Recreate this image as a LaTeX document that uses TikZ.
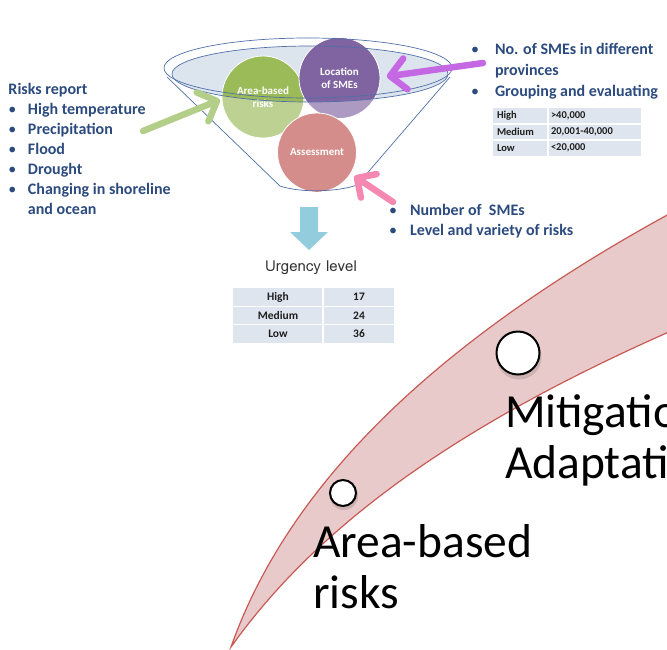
\documentclass[tikz,border=0pt]{standalone}
\usepackage{fontspec}
\setmainfont{Carlito}
\newfontfamily\lomafont{Loma}
\usetikzlibrary{calc}
\definecolor{navy}{HTML}{2B4A7E}
\definecolor{fgreen}{HTML}{9BBB59}
\definecolor{fpurple}{HTML}{8064A2}
\definecolor{fred}{HTML}{C0504D}
\definecolor{funnelline}{HTML}{4F6FA8}
\definecolor{ellfill}{HTML}{DCE4EE}
\definecolor{agreen}{HTML}{B3CE88}
\definecolor{apurple}{HTML}{C468E4}
\definecolor{apink}{HTML}{F488B0}
\definecolor{ablue}{HTML}{93CDDD}
\definecolor{tabfill}{HTML}{DFE5EE}
\definecolor{tabtext}{HTML}{1E1E1E}
\definecolor{bandfill}{HTML}{E8CACA}
\definecolor{bandline}{HTML}{C85A56}
\begin{document}
\begin{tikzpicture}[x=1pt,y=-1pt,
  every node/.style={inner sep=0pt, outer sep=0pt},
  funnelcircle/.style={circle, minimum size=#1, draw=white, line width=0.8pt},
  circlabel/.style={text=white, font=\bfseries\fontsize{11}{13}\selectfont, align=center},
  navytext/.style={text=navy, font=\bfseries\fontsize{16}{20}\selectfont},
  fatarrow/.style={line width=6.5pt, line cap=round, line join=round},
  tabtxt/.style={text=tabtext, font=\bfseries\fontsize{10.5}{12}\selectfont},
  bigtext/.style={font=\fontsize{47.5}{52}\selectfont, anchor=base west},
  ringdot/.style={circle, draw=black, line width=2pt, fill=white},
  funnelstroke/.style={draw=funnelline, line width=0.7pt}]
\useasboundingbox (0,0) rectangle (667,649);
\clip (0,0) rectangle (667,649);

% ---------- band ----------
\filldraw[fill=bandfill, draw=bandline, line width=1.2pt]
  (231,647) .. controls (290,480) and (445,328) .. (720,187)
  -- (720,310) .. controls (480,410) and (325,515) .. (231,647) -- cycle;
\fill[black, opacity=0.12] (344,496) circle (14);
\node[ringdot, minimum size=26pt] (dotA) at (343,493) {};
\fill[black, opacity=0.12] (519,357) circle (22.5);
\node[ringdot, minimum size=43pt] (dotB) at (518,353) {};
\node[bigtext] (mit1) at (505,427) {Mitigation};
\node[bigtext] (mit2) at (505,478) {Adaptation};
\node[bigtext] (abr1) at (313,557) {Area-based};
\node[bigtext] (abr2) at (313,608) {risks};

% ---------- funnel ----------
\fill[ellfill] (310,74) ellipse[x radius=138, y radius=28];
\node[funnelcircle=82pt, fill=fgreen, circlabel] (cgreen) at (263,97) {Area-based\\risks};
\node[funnelcircle=81pt, fill=fpurple, circlabel] (cpurple) at (339.5,78) {Location\\of SMEs};
\node[funnelcircle=79pt, fill=fred] (cred) at (317,152.5) {};
% lighter overlay on the cone below the rim
\fill[white, opacity=0.35] (172,74) -- (280,186) .. controls (300,193) and (338,192) .. (357,185)
  -- (448,74) arc[start angle=0, end angle=180, x radius=138, y radius=28];
\node[circlabel] (asslabel) at (317,152) {Assessment};
\draw[funnelstroke] (310,74) ellipse[x radius=138, y radius=28];
\draw[funnelstroke] (308,68) ellipse[x radius=144, y radius=30];
\draw[funnelstroke] (167,77) -- (280,186) .. controls (300,193) and (338,192) .. (357,185) -- (450,77);

% ---------- arrows ----------
\coordinate (gtail) at (143,131); \coordinate (gtip) at (217,101);
\draw[agreen, fatarrow] (gtail) -- (gtip)
  ($(gtip)!22pt!45:(gtail)$) -- (gtip) -- ($(gtip)!22pt!-45:(gtail)$);
\coordinate (ptail) at (483,63); \coordinate (ptip) at (390,76);
\draw[apurple, fatarrow] (ptail) -- (ptip)
  ($(ptip)!22pt!45:(ptail)$) -- (ptip) -- ($(ptip)!22pt!-45:(ptail)$);
\coordinate (ktail) at (393,202); \coordinate (ktip) at (357,178);
\draw[apink, fatarrow] (ktail) -- (ktip)
  ($(ktip)!20pt!45:(ktail)$) -- (ktip) -- ($(ktip)!20pt!-45:(ktail)$);
\fill[ablue] (300,207) -- (318,207) -- (318,232) -- (328,232) -- (309,250) -- (290,232) -- (300,232) -- cycle;

% ---------- left text ----------
\node[navytext, anchor=north west] (risks) at (8.5,80) {\begin{tabular}{@{}l@{}l@{}}
\multicolumn{2}{@{}l@{}}{Risks report}\\
\makebox[19.5pt][l]{\mdseries\textbullet} & High temperature\\
\makebox[19.5pt][l]{\mdseries\textbullet} & Precipitation\\
\makebox[19.5pt][l]{\mdseries\textbullet} & Flood\\
\makebox[19.5pt][l]{\mdseries\textbullet} & Drought\\
\makebox[19.5pt][l]{\mdseries\textbullet} & Changing in shoreline\\
 & and ocean
\end{tabular}};

% ---------- right text ----------
\node[navytext, font=\bfseries\fontsize{16}{20.8}\selectfont, anchor=north west] (smes) at (471,40.4) {\begin{tabular}{@{}l@{}l@{}}
\makebox[24pt][l]{\mdseries\textbullet} & No. of SMEs in different\\
 & provinces\\
\makebox[24pt][l]{\mdseries\textbullet} & Grouping and evaluating
\end{tabular}};
\fill[tabfill] (493,108) rectangle (641,156);
\draw[white, line width=1.2pt] (493,124) -- (641,124) (493,140) -- (641,140) (548,108) -- (548,156);
\node[tabtxt, anchor=west] (t1a) at (497,116) {High};
\node[tabtxt, anchor=west] (t1b) at (551,116) {>40,000};
\node[tabtxt, anchor=west] (t2a) at (497,132) {Medium};
\node[tabtxt, anchor=west] (t2b) at (551,132) {20,001-40,000};
\node[tabtxt, anchor=west] (t3a) at (497,148) {Low};
\node[tabtxt, anchor=west] (t3b) at (551,148) {<20,000};

% ---------- assessment text ----------
\node[navytext, anchor=north west] (numsme) at (389,201) {\begin{tabular}{@{}l@{}l@{}}
\makebox[21pt][l]{\mdseries\textbullet} & Number of\ \ SMEs\\
\makebox[21pt][l]{\mdseries\textbullet} & Level and variety of risks
\end{tabular}};

% ---------- urgency ----------
\node[text=black!80, font=\lomafont\fontsize{15}{17}\selectfont] (urg) at (311,268) {Urgency level};
\fill[tabfill] (233,288) rectangle (394,343);
\draw[white, line width=1.5pt] (233,306.3) -- (394,306.3) (233,324.7) -- (394,324.7) (323,288) -- (323,343);
\node[tabtxt, font=\bfseries\fontsize{11.5}{13}\selectfont] (u1a) at (278,297) {High};
\node[tabtxt, font=\bfseries\fontsize{11.5}{13}\selectfont] (u1b) at (359,297) {17};
\node[tabtxt, font=\bfseries\fontsize{11.5}{13}\selectfont] (u2a) at (278,315.5) {Medium};
\node[tabtxt, font=\bfseries\fontsize{11.5}{13}\selectfont] (u2b) at (359,315.5) {24};
\node[tabtxt, font=\bfseries\fontsize{11.5}{13}\selectfont] (u3a) at (278,334) {Low};
\node[tabtxt, font=\bfseries\fontsize{11.5}{13}\selectfont] (u3b) at (359,334) {36};
\end{tikzpicture}
\end{document}
